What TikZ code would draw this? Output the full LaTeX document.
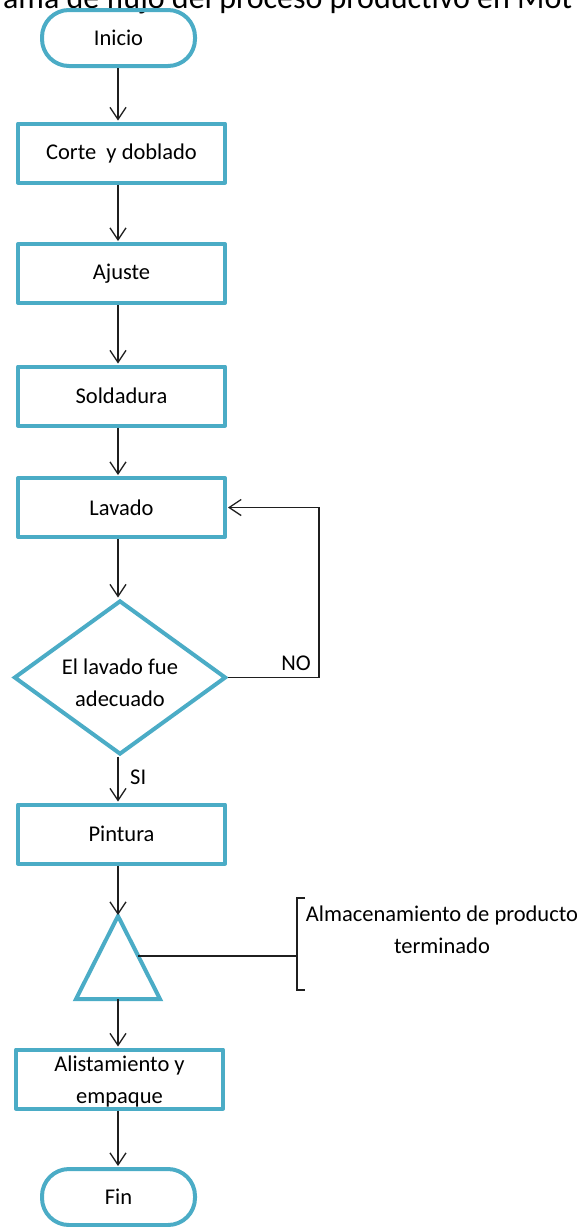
\documentclass[tikz,border=0pt]{standalone}
\usepackage{fontspec}
\setmainfont{Carlito}
\usetikzlibrary{arrows.meta,shapes.geometric,calc}
\definecolor{flowblue}{HTML}{4BACC6}
\definecolor{linegray}{HTML}{1F1F1F}

\tikzset{
  txt/.style={font=\fontsize{22.5}{32}\selectfont},
  procbox/.style={txt, draw=flowblue, line width=4pt, line join=round,
    minimum width=207pt, minimum height=59pt, inner sep=0pt, align=center},
  terminal/.style={procbox, rounded corners=27pt,
    minimum width=153pt, minimum height=56pt},
  decision/.style={txt, diamond, draw=flowblue, line width=4pt, aspect=1.37,
    minimum width=212pt, minimum height=154pt, inner sep=0pt, align=center},
  link/.style={draw=linegray, line width=1.3pt},
  conn/.style={link, shorten >=1pt,
    -{Straight Barb[length=12pt,width=16pt,line width=1.3pt]}},
  lbl/.style={txt, inner sep=0pt}
}

\begin{document}
\begin{tikzpicture}[x=1pt,y=1pt]
  \useasboundingbox (0,0) rectangle (577,-1227);

  % heading, cut by the top edge of the page
  \begin{scope}
    \clip (0,0) rectangle (577,-1227);
    \node[anchor=base west, inner sep=0pt, font=\fontsize{32}{38}\selectfont]
      (title) at (-65,-8) {Diagrama de flujo del proceso productivo en Mot};
  \end{scope}

  % main column
  \coordinate (spine) at (118,0);
  \coordinate (loopx) at (319,0);

  \node[terminal] (inicio) at (118.5,-38) {Inicio};
  \node[procbox] (corte) at (121.5,-153) {Corte~~y doblado};
  \node[procbox] (ajuste) at (121.5,-273.5) {Ajuste};
  \node[procbox] (soldadura) at (121.5,-396) {Soldadura};
  \node[procbox] (lavado) at (121.5,-507.5) {Lavado};
  \node[decision] (check) at (120,-677.5) {\rule{0pt}{27pt}El lavado fue\\adecuado};
  \node[procbox] (pintura) at (121.5,-834) {Pintura};

  % storage symbol
  \coordinate (tri-apex) at (118,-916);
  \coordinate (tri-left) at (76,-999);
  \coordinate (tri-right) at (160,-999);
  \coordinate (tri-base) at (118,-999);
  \draw[draw=flowblue, line width=4pt, line join=miter]
    (tri-apex) -- (tri-right) -- (tri-left) -- cycle;
  \coordinate (tri-side) at ($(tri-apex)!0.48!(tri-right)$);

  \node[procbox] (alist) at (119.5,-1079) {\rule{0pt}{21pt}Alistamiento y\\empaque};
  \node[terminal] (fin) at (118.5,-1197) {Fin};

  % flow
  \draw[conn] (inicio.south -| spine) -- (corte.north -| spine);
  \draw[conn] (corte.south -| spine) -- (ajuste.north -| spine);
  \draw[conn] (ajuste.south -| spine) -- (soldadura.north -| spine);
  \draw[conn] (soldadura.south -| spine) -- (lavado.north -| spine);
  \draw[conn] (lavado.south -| spine) -- (check.north -| spine);
  \draw[conn] (check.south -| spine) -- (pintura.north -| spine);
  \draw[conn] (check.east) -- (check.east -| loopx) |- (lavado.east);
  \draw[conn] (pintura.south -| spine) -- (tri-apex);
  \draw[conn] (tri-base) -- (alist.north -| spine);
  \draw[conn] (alist.south -| spine) -- (fin.north -| spine);

  \node[lbl, anchor=west] (si) at (130,-777) {SI};
  \node[lbl] (no) at (296,-663) {NO};

  % annotation bracket
  \coordinate (brk-top) at (297,-898);
  \coordinate (brk-bot) at (297,-990);
  \draw[link] ($(brk-top)+(8,0)$) -- (brk-top) -- (brk-bot) -- ++(8,0);
  \draw[link] (tri-side) -- (tri-side -| brk-top);
  \node[lbl, align=center] (store) at (442,-930)
    {Almacenamiento de producto\\terminado};
\end{tikzpicture}
\end{document}
